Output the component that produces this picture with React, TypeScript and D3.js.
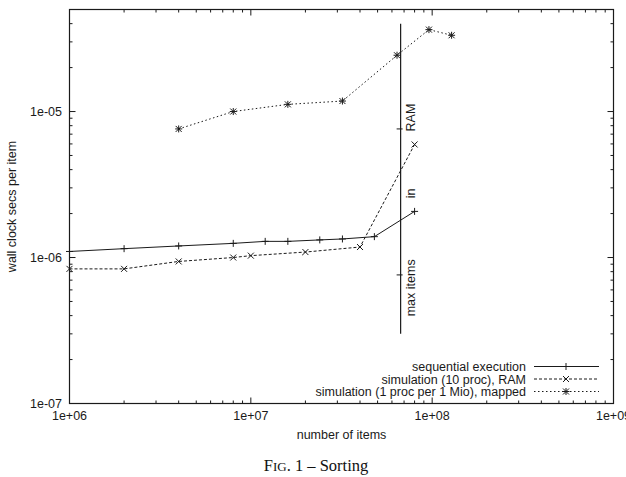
import React from "react";
import * as d3 from "d3";

// sequential execution
const seqX = [1e6, 2e6, 4e6, 8e6, 1.2e7, 1.6e7, 2.4e7, 3.2e7, 4.8e7, 8e7];
const seqY = [1.1e-6, 1.15e-6, 1.2e-6, 1.25e-6, 1.29e-6, 1.29e-6, 1.32e-6, 1.34e-6, 1.39e-6, 2.07e-6];

// simulation (10 proc), RAM
const ramX = [1e6, 2e6, 4e6, 8e6, 1e7, 2e7, 4e7, 8e7];
const ramY = [0.836e-6, 0.836e-6, 0.94e-6, 1.0e-6, 1.03e-6, 1.09e-6, 1.18e-6, 5.95e-6];

// simulation (1 proc per 1 Mio), mapped
const mapX = [4e6, 8e6, 1.6e7, 3.2e7, 6.4e7, 9.6e7, 1.28e8];
const mapY = [7.6e-6, 1.0e-5, 1.12e-5, 1.18e-5, 2.43e-5, 3.64e-5, 3.33e-5];

// "max items in RAM" marker line
const limitX = 6.7e7;
const limitRange = [3e-7, 4e-5];
const limitTicks = [7.6e-6, 7.6e-7];
const limitLabels = ["RAM", "in", "max items"];
const limitLabelY = [9.1e-6, 2.75e-6, 6.2e-7];

const xTicks = [1e6, 1e7, 1e8, 1e9];
const xTickLabels = ["1e+06", "1e+07", "1e+08", "1e+09"];
const yTicks = [1e-7, 1e-6, 1e-5];
const yTickLabels = ["1e-07", "1e-06", "1e-05"];

const legendNames = [
  "sequential execution",
  "simulation (10 proc), RAM",
  "simulation (1 proc per 1 Mio), mapped",
];

const W = 626;
const H = 477;
const left = 69.5;
const right = 613.5;
const top = 9.5;
const bottom = 403.5;
const font = "'Liberation Sans', Arial, sans-serif";
const ink = "#1a1a1a";

const x = d3.scaleLog().domain([1e6, 1e9]).range([left, right]);
const y = d3.scaleLog().domain([1e-7, 5e-5]).range([bottom, top]);

function minorTicks(lo: number, hi: number) {
  const out: { v: number; major: boolean }[] = [];
  for (let e = Math.round(Math.log10(lo)); 10 ** e <= hi * 1.0001; e++) {
    for (let m = 1; m <= 9; m++) {
      const v = m * 10 ** e;
      if (v >= lo * 0.9999 && v <= hi * 1.0001) out.push({ v, major: m === 1 });
    }
  }
  return out;
}

function Plus({ cx, cy }: { cx: number; cy: number }) {
  const r = 3.5;
  return <path d={`M${cx - r},${cy}H${cx + r}M${cx},${cy - r}V${cy + r}`} stroke={ink} strokeWidth={1} />;
}
function Cross({ cx, cy }: { cx: number; cy: number }) {
  const r = 3;
  return <path d={`M${cx - r},${cy - r}L${cx + r},${cy + r}M${cx - r},${cy + r}L${cx + r},${cy - r}`} stroke={ink} strokeWidth={1} />;
}
function Star({ cx, cy }: { cx: number; cy: number }) {
  return (
    <g>
      <Plus cx={cx} cy={cy} />
      <Cross cx={cx} cy={cy} />
    </g>
  );
}

export default function App() {
  const line = d3
    .line<[number, number]>()
    .x((d) => x(d[0]))
    .y((d) => y(d[1]));
  const seq = seqX.map((v, i) => [v, seqY[i]] as [number, number]);
  const ram = ramX.map((v, i) => [v, ramY[i]] as [number, number]);
  const map = mapX.map((v, i) => [v, mapY[i]] as [number, number]);

  const xt = minorTicks(1e6, 1e9);
  const yt = minorTicks(1e-7, 5e-5);
  const lx = x(limitX);

  const legendY = [366.5, 379, 391.5];
  const dashes = [undefined, "3,2", "1.5,2.5"];
  const markers = [Plus, Cross, Star];

  return (
    <svg
      width={W}
      height={H}
      style={{ position: "absolute", left: 0, top: 0, background: "#fff" }}
      fontFamily={font}
      fontSize={12.5}
    >
      {/* ticks */}
      {xt.map((t, i) => {
        const len = t.major ? 6 : 3;
        return (
          <g key={"xt" + i} stroke={ink} strokeWidth={1}>
            <line x1={x(t.v)} x2={x(t.v)} y1={bottom} y2={bottom - len} />
            <line x1={x(t.v)} x2={x(t.v)} y1={top} y2={top + len} />
          </g>
        );
      })}
      {yt.map((t, i) => {
        const len = t.major ? 6 : 3;
        return (
          <g key={"yt" + i} stroke={ink} strokeWidth={1}>
            <line x1={left} x2={left + len} y1={y(t.v)} y2={y(t.v)} />
            <line x1={right} x2={right - len} y1={y(t.v)} y2={y(t.v)} />
          </g>
        );
      })}
      <rect x={left} y={top} width={right - left} height={bottom - top} fill="none" stroke={ink} strokeWidth={1.2} />

      {xTicks.map((v, i) => (
        <text key={"xl" + i} x={x(v)} y={419.5} textAnchor="middle" fill={ink}>
          {xTickLabels[i]}
        </text>
      ))}
      {yTicks.map((v, i) => (
        <text key={"yl" + i} x={62} y={y(v) + 4.5} textAnchor="end" fill={ink}>
          {yTickLabels[i]}
        </text>
      ))}

      <text x={(left + right) / 2} y={438.5} textAnchor="middle" fill={ink}>
        number of items
      </text>
      <text transform={`translate(16,${(top + bottom) / 2}) rotate(-90)`} textAnchor="middle" fill={ink}>
        wall clock secs per item
      </text>

      {/* max items in RAM */}
      <line x1={lx} x2={lx} y1={y(limitRange[0])} y2={y(limitRange[1])} stroke={ink} strokeWidth={1.2} />
      {limitTicks.map((v, i) => (
        <line key={"lt" + i} x1={lx - 4} x2={lx + 2} y1={y(v)} y2={y(v)} stroke={ink} strokeWidth={1} />
      ))}
      {limitLabels.map((s, i) => (
        <text
          key={"ll" + i}
          transform={`translate(${lx + 14.5},${y(limitLabelY[i])}) rotate(-90)`}
          textAnchor="middle"
          fill={ink}
        >
          {s}
        </text>
      ))}

      {/* series */}
      <path d={line(seq) || ""} fill="none" stroke={ink} strokeWidth={1} />
      <path d={line(ram) || ""} fill="none" stroke={ink} strokeWidth={1} strokeDasharray="3,2" />
      <path d={line(map) || ""} fill="none" stroke={ink} strokeWidth={1} strokeDasharray="1.5,2.5" />
      {seq.map((d, i) => (
        <Plus key={"sp" + i} cx={x(d[0])} cy={y(d[1])} />
      ))}
      {ram.map((d, i) => (
        <Cross key={"rp" + i} cx={x(d[0])} cy={y(d[1])} />
      ))}
      {map.map((d, i) => (
        <Star key={"mp" + i} cx={x(d[0])} cy={y(d[1])} />
      ))}

      {/* legend */}
      {legendNames.map((name, i) => {
        const M = markers[i];
        return (
          <g key={"lg" + i}>
            <text x={526} y={legendY[i] + 4.5} textAnchor="end" fill={ink}>
              {name}
            </text>
            <line x1={534} x2={599} y1={legendY[i]} y2={legendY[i]} stroke={ink} strokeWidth={1} strokeDasharray={dashes[i]} />
            <M cx={566} cy={legendY[i]} />
          </g>
        );
      })}

      {/* caption */}
      <text x={316} y={471} textAnchor="middle" fontFamily="'Liberation Serif', 'Times New Roman', serif" fontSize={16.5} fill="#111">
        <tspan>F</tspan>
        <tspan fontSize={13}>IG</tspan>
        <tspan>. 1 – Sorting</tspan>
      </text>
    </svg>
  );
}
